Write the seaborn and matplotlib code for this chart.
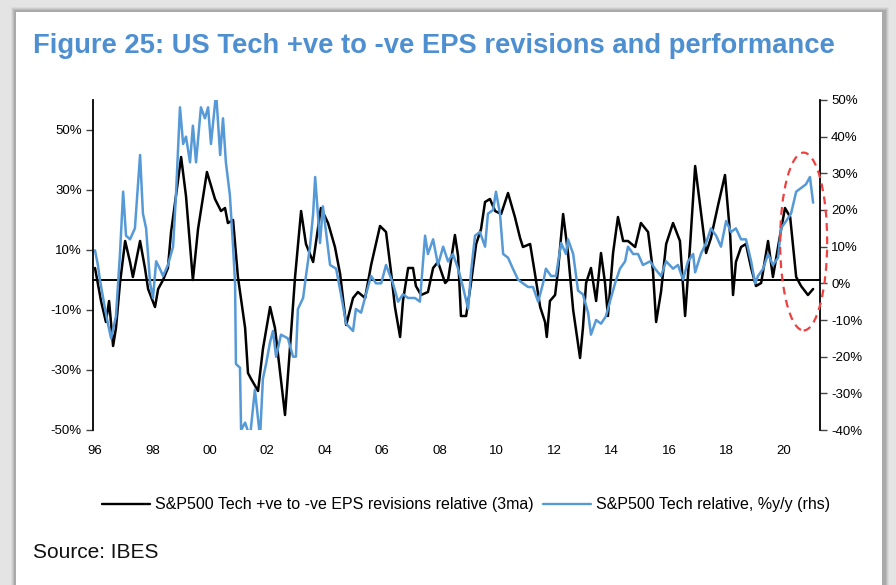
import numpy as np
import pandas as pd
import matplotlib
matplotlib.use("Agg")
import matplotlib.pyplot as plt
import seaborn as sns
from matplotlib import font_manager
from matplotlib.patches import Ellipse, Rectangle
from matplotlib.lines import Line2D

# S&P500 Tech +ve to -ve EPS revisions relative (3ma), lhs - years after Jan 1996
rev_t = [0.00, 0.21, 0.38, 0.49, 0.63, 0.73, 0.87, 1.05, 1.22, 1.32,
         1.57, 1.74, 1.85, 2.09, 2.20, 2.37, 2.54, 2.65, 2.82, 3.00,
         3.17, 3.41, 3.59, 3.90, 4.18, 4.39, 4.53, 4.63, 4.81, 4.98,
         5.23, 5.33, 5.44, 5.68, 5.85, 6.10, 6.27, 6.45, 6.62, 6.79,
         6.97, 7.18, 7.35, 7.60, 7.87, 8.12, 8.36, 8.54, 8.75, 8.99,
         9.16, 9.41, 9.62, 9.93, 10.14, 10.31, 10.45, 10.63, 10.73, 10.91,
         11.08, 11.18, 11.36, 11.60, 11.78, 11.95, 12.20, 12.30, 12.54, 12.65,
         12.75, 12.93, 13.10, 13.28, 13.45, 13.59, 13.76, 13.94, 14.15, 14.39,
         14.63, 14.81, 14.91, 15.16, 15.33, 15.51, 15.68, 15.74, 15.85, 16.03,
         16.13, 16.31, 16.48, 16.66, 16.90, 17.00, 17.11, 17.28, 17.46, 17.63,
         17.77, 17.87, 18.05, 18.22, 18.40, 18.57, 18.82, 19.02, 19.27, 19.44,
         19.55, 19.72, 19.90, 20.14, 20.38, 20.56, 20.73, 20.91, 21.08, 21.29,
         21.46, 21.71, 21.95, 22.13, 22.23, 22.33, 22.51, 22.68, 22.86, 23.03,
         23.21, 23.45, 23.62, 23.87, 24.04, 24.22, 24.43, 24.60, 24.84, 25.02]
rev_val = [4, -7, -14, -7, -22, -16, -1, 13, 6, 1,
           13, 4, -3, -9, -3, 0, 4, 16, 28, 41,
           28, 0, 17, 36, 27, 23, 24, 19, 20, 1,
           -16, -31, -33, -37, -23, -9, -16, -31, -45, -23,
           1, 23, 12, 6, 24, 19, 11, 2, -15, -6,
           -4, -6, 5, 18, 16, 3, -9, -19, -7, 4,
           4, -2, -5, -4, 4, 6, -1, 0, 15, 8,
           -12, -12, -1, 12, 17, 26, 27, 23, 22, 29,
           21, 14, 11, 12, 2, -9, -14, -19, -7, -5,
           3, 22, 9, -10, -26, -16, -1, 4, -7, 9,
           -1, -12, 9, 21, 13, 13, 11, 19, 16, 3,
           -14, -4, 12, 19, 13, -12, 11, 38, 25, 9,
           14, 25, 35, 15, -5, 6, 11, 12, 4, -2,
           -1, 13, 1, 15, 24, 21, 1, -2, -5, -3]

# S&P500 Tech relative, %y/y (rhs)
perf_t = [0.00, 0.10, 0.17, 0.35, 0.45, 0.56, 0.73, 0.87, 0.98, 1.08,
          1.22, 1.39, 1.57, 1.67, 1.78, 1.92, 2.02, 2.13, 2.26, 2.37,
          2.54, 2.72, 2.82, 2.96, 3.07, 3.17, 3.31, 3.41, 3.52, 3.69,
          3.83, 3.94, 4.04, 4.22, 4.36, 4.46, 4.56, 4.70, 4.81, 4.88,
          4.91, 5.05, 5.09, 5.23, 5.40, 5.57, 5.75, 5.85, 5.96, 6.10,
          6.20, 6.31, 6.48, 6.72, 6.90, 7.00, 7.07, 7.25, 7.35, 7.49,
          7.60, 7.67, 7.84, 7.94, 8.08, 8.19, 8.40, 8.57, 8.75, 8.99,
          9.09, 9.27, 9.44, 9.62, 9.79, 9.97, 10.14, 10.38, 10.56, 10.73,
          10.91, 11.15, 11.32, 11.50, 11.60, 11.78, 11.95, 12.13, 12.30, 12.47,
          12.65, 12.82, 13.00, 13.10, 13.24, 13.41, 13.59, 13.69, 13.87, 13.97,
          14.11, 14.22, 14.39, 14.56, 14.74, 14.91, 15.09, 15.26, 15.44, 15.61,
          15.71, 15.89, 16.06, 16.24, 16.41, 16.48, 16.66, 16.83, 17.00, 17.18,
          17.28, 17.46, 17.63, 17.80, 17.94, 18.12, 18.29, 18.47, 18.57, 18.75,
          18.92, 19.09, 19.34, 19.51, 19.72, 19.90, 20.14, 20.31, 20.49, 20.66,
          20.84, 20.91, 21.11, 21.29, 21.46, 21.64, 21.81, 21.99, 22.16, 22.33,
          22.51, 22.68, 22.86, 23.00, 23.10, 23.28, 23.45, 23.62, 23.80, 23.90,
          24.08, 24.25, 24.43, 24.60, 24.77, 24.91, 25.02]
perf_val = [9, 5, 1, -7, -11, -15, -9, 8, 25, 13,
            12, 15, 35, 19, 15, 0, -4, 6, 4, 2,
            5, 10, 24, 48, 38, 40, 33, 43, 33, 48,
            45, 48, 38, 52, 35, 45, 33, 24, 10, 0,
            -22, -23, -40, -38, -42, -29, -42, -26, -22, -16,
            -13, -20, -14, -15, -20, -20, -7, -4, 2, 10,
            19, 29, 11, 21, 12, 5, 4, -3, -11, -13,
            -7, -8, -3, 2, 0, 0, 5, 0, -5, -3,
            -4, -4, -5, 13, 8, 12, 5, 10, 6, 8,
            4, -1, -7, 3, 13, 14, 10, 19, 20, 25,
            19, 8, 7, 4, 1, 0, -1, -1, -5, 0,
            4, 2, 2, 11, 8, 12, 8, -2, -3, -8,
            -14, -10, -11, -9, -5, 0, 4, 6, 10, 8,
            8, 5, 6, 4, 2, 6, 4, 5, 1, 6,
            8, 3, 8, 11, 15, 13, 10, 17, 14, 15,
            12, 12, 6, 0, 2, 4, 8, 5, 7, 15,
            17, 19, 25, 26, 27, 29, 22]

left_ticks = [-50, -30, -10, 10, 30, 50]
right_ticks = [-40, -30, -20, -10, 0, 10, 20, 30, 40, 50]
year_ticks = list(range(1996, 2022, 2))
year_labels = [f"{y % 100:02d}" for y in year_ticks]

rev_label = "S&P500 Tech +ve to -ve EPS revisions relative (3ma)"
perf_label = "S&P500 Tech relative, %y/y (rhs)"

BLACK = "#000000"
BLUE = "#5599d6"
TITLE_BLUE = "#4d8fd0"

sns.set_style("white")
names = {f.name for f in font_manager.fontManager.ttflist}
narrow = "Liberation Sans Narrow" if "Liberation Sans Narrow" in names else "Liberation Sans"
plt.rcParams["font.family"] = [narrow, "DejaVu Sans"]
plt.rcParams["text.color"] = "black"
plt.rcParams["xtick.labelcolor"] = "black"
plt.rcParams["ytick.labelcolor"] = "black"

rev = pd.DataFrame({"year": 1996 + np.array(rev_t), "value": rev_val})
perf = pd.DataFrame({"year": 1996 + np.array(perf_t), "value": perf_val})

W, H = 896, 585
fig = plt.figure(figsize=(W / 100, H / 100), dpi=100, facecolor="#e4e4e4")

# framed page with a soft shadow
for i, a in enumerate([0.10, 0.16, 0.24, 0.35]):
    off = 5 - i
    fig.patches.append(Rectangle(((16 - off) / W, 0), (868 + 2 * off) / W, (573 + off) / H,
                                 transform=fig.transFigure, facecolor="#8a8a8a",
                                 edgecolor="none", alpha=a, zorder=-20))
fig.patches.append(Rectangle((16 / W, 0), 866 / W, 573 / H, transform=fig.transFigure,
                             facecolor="white", edgecolor="none", zorder=-10))

ax = fig.add_axes([93 / W, 1 - 430 / H, (820 - 93) / W, 330 / H])
ax.set_zorder(1)
ax.set_facecolor("none")
sns.lineplot(data=rev, x="year", y="value", ax=ax, color=BLACK, lw=1.8)
ax.set_ylim(-50, 60)
ax.set_xlim(1995.93, 2021.26)
ax.set_yticks(left_ticks, labels=[f"{v}%" for v in left_ticks])
ax.set_xlabel("")
ax.set_ylabel("")

ax2 = ax.twinx()
ax2.set_zorder(2)
ax2.set_facecolor("none")
sns.lineplot(data=perf, x="year", y="value", ax=ax2, color=BLUE, lw=1.8)
ax2.set_ylim(-40, 50)
ax2.set_yticks(right_ticks, labels=[f"{v}%" for v in right_ticks])
ax2.set_ylabel("")

for s in ["top", "right"]:
    ax.spines[s].set_visible(False)
for s in ["top", "bottom", "left"]:
    ax2.spines[s].set_visible(False)
ax.spines["left"].set_linewidth(1.3)
ax2.spines["right"].set_linewidth(1.3)
ax.spines["left"].set_color(BLACK)
ax2.spines["right"].set_color(BLACK)

# zero line acts as x axis with tiny ticks
ax.spines["bottom"].set_position(("data", 0))
ax.spines["bottom"].set_linewidth(1.4)
ax.spines["bottom"].set_color(BLACK)
ax.set_xticks(year_ticks)
ax.tick_params(axis="x", direction="out", length=2.5, width=0.8, color="#555555",
               labelbottom=False)
ax.tick_params(axis="y", direction="out", length=5, width=1, color="#444444",
               labelsize=9.5, pad=3, labelcolor="black")
ax2.tick_params(axis="y", direction="out", length=5, width=1, color="#444444",
                labelsize=9.5, pad=3, labelcolor="black")

sec = ax.secondary_xaxis("bottom")
sec.set_xticks(year_ticks, labels=year_labels)
sec.tick_params(length=0, pad=11, labelsize=9.5, labelcolor="black")
sec.spines["bottom"].set_visible(False)

# highlight of the latest divergence
ring = Ellipse((2020.69, 11.4), 1.64, 48.5, fill=False, edgecolor="#f04040",
               lw=1.6, ls=(0, (3.5, 2.5)), clip_on=False, zorder=6)
ax2.add_patch(ring)

handles = [Line2D([], [], color=BLACK, lw=1.7), Line2D([], [], color=BLUE, lw=1.7)]
fig.legend(handles, [rev_label, perf_label], loc="center",
           bbox_to_anchor=(466 / W, 1 - 505 / H), ncol=2, frameon=False,
           fontsize=11.5, handlelength=3.0, handletextpad=0.3, columnspacing=0.6)

fig.text(33 / W, 1 - 46 / H, "Figure 25: US Tech +ve to -ve EPS revisions and performance",
         fontsize=19.7, fontweight="bold", color=TITLE_BLUE, va="center", ha="left")
fig.text(33 / W, 1 - 553 / H, "Source: IBES", fontsize=15, color="#111111",
         va="center", ha="left")

fig.savefig("out.png", dpi=100, facecolor=fig.get_facecolor())
